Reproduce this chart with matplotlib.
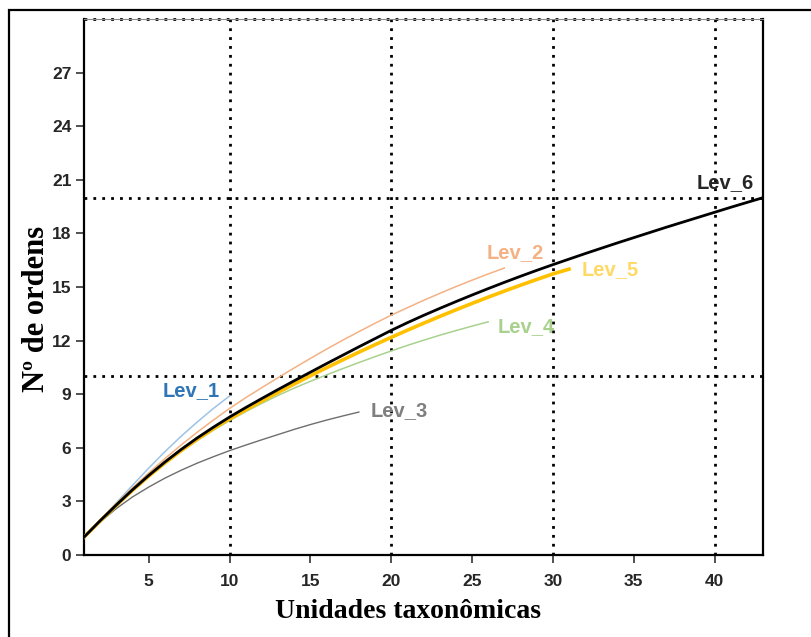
import matplotlib
matplotlib.use("Agg")
import matplotlib.pyplot as plt
from matplotlib.patches import Rectangle

# Rarefaction curves: number of orders vs. taxonomic units, per level
lev1_x = list(range(1, 11))
lev1_y = [1.0, 1.96, 2.92, 3.9, 4.86, 5.78, 6.64, 7.44, 8.2, 8.9]

lev2_x = list(range(1, 28))
lev2_y = [1.0, 1.95, 2.87, 3.75, 4.59, 5.39, 6.15, 6.87, 7.55, 8.2,
          8.8, 9.37, 9.92, 10.47, 11.0, 11.52, 12.02, 12.5, 12.97, 13.42,
          13.84, 14.25, 14.64, 15.02, 15.38, 15.73, 16.06]

lev3_x = list(range(1, 19))
lev3_y = [1.0, 1.85, 2.6, 3.25, 3.8, 4.3, 4.74, 5.14, 5.5, 5.84,
          6.15, 6.45, 6.74, 7.03, 7.3, 7.55, 7.78, 8.0]

lev4_x = list(range(1, 27))
lev4_y = [1.0, 1.9, 2.77, 3.6, 4.38, 5.1, 5.77, 6.4, 6.98, 7.52,
          8.02, 8.49, 8.93, 9.34, 9.72, 10.08, 10.43, 10.77, 11.1, 11.42,
          11.73, 12.02, 12.3, 12.56, 12.81, 13.05]

lev5_x = list(range(1, 32))
lev5_y = [1.0, 1.9, 2.78, 3.62, 4.41, 5.15, 5.84, 6.48, 7.07, 7.62,
          8.13, 8.62, 9.1, 9.57, 10.03, 10.48, 10.92, 11.35, 11.77, 12.18,
          12.58, 12.97, 13.35, 13.72, 14.08, 14.43, 14.77, 15.1, 15.42, 15.73,
          16.0]

lev6_x = list(range(1, 44))
lev6_y = [1.0, 1.92, 2.8, 3.65, 4.45, 5.2, 5.9, 6.55, 7.15, 7.72,
          8.25, 8.76, 9.26, 9.75, 10.23, 10.71, 11.18, 11.65, 12.11, 12.57,
          13.0, 13.41, 13.8, 14.18, 14.55, 14.91, 15.26, 15.6, 15.93, 16.25,
          16.56, 16.87, 17.17, 17.47, 17.76, 18.05, 18.34, 18.62, 18.9, 19.18,
          19.46, 19.73, 20.0]

x_ticks = [5, 10, 15, 20, 25, 30, 35, 40]
y_ticks = [0, 3, 6, 9, 12, 15, 18, 21, 24, 27]
x_guides = [10, 20, 30, 40]
y_guides = [10, 20, 30]

plt.rcParams['font.family'] = ['Liberation Sans', 'DejaVu Sans']

fig = plt.figure(figsize=(8.11, 6.37), dpi=100)
ax = fig.add_axes([84 / 811, 1 - 555 / 637, (763 - 84) / 811, (555 - 19) / 637])

# outer frame around the figure
fig.patches.append(Rectangle((9 / 811, -0.05), 1.1, 1 - 10 / 637 + 0.05,
                             transform=fig.transFigure, fill=False,
                             edgecolor='black', linewidth=1.6, zorder=0))

ax.set_xlim(1, 43)
ax.set_ylim(0, 30)

for gx in x_guides:
    ax.axvline(gx, color='black', linestyle=(0, (1, 2.2)), linewidth=2.0, zorder=1)
for gy in y_guides:
    ax.axhline(gy, color='black', linestyle=(0, (1, 2.2)), linewidth=2.0, zorder=1,
               clip_on=False)

ax.plot(lev1_x, lev1_y, color='#9DC3E6', linewidth=1.1, zorder=3)
ax.plot(lev2_x, lev2_y, color='#F4B183', linewidth=1.1, zorder=3)
ax.plot(lev3_x, lev3_y, color='#6E6E6E', linewidth=1.0, zorder=3)
ax.plot(lev4_x, lev4_y, color='#A9D18E', linewidth=1.1, zorder=3)
ax.plot(lev5_x, lev5_y, color='#FFC000', linewidth=2.6, zorder=4)
ax.plot(lev6_x, lev6_y, color='black', linewidth=2.0, zorder=5)

label_kw = dict(fontsize=14.5, fontweight='bold', va='center', zorder=6)
ax.text(lev1_x[-1] - 0.6, lev1_y[-1] + 0.3, 'Lev_1', color='#2E75B6', ha='right', **label_kw)
ax.text(lev2_x[-1] - 1.1, lev2_y[-1] + 0.85, 'Lev_2', color='#F4B183', ha='left', **label_kw)
ax.text(lev3_x[-1] + 0.75, lev3_y[-1] + 0.1, 'Lev_3', color='#7F7F7F', ha='left', **label_kw)
ax.text(lev4_x[-1] + 0.6, lev4_y[-1] - 0.25, 'Lev_4', color='#A9D18E', ha='left', **label_kw)
ax.text(lev5_x[-1] + 0.75, lev5_y[-1] - 0.05, 'Lev_5', color='#FFD966', ha='left', **label_kw)
ax.text(lev6_x[-1] - 4.1, lev6_y[-1] + 0.82, 'Lev_6', color='#262626', ha='left', **label_kw)

ax.set_xticks(x_ticks)
ax.set_yticks(y_ticks)
ax.tick_params(axis='both', direction='out', length=6, width=1.2, color='#333333',
               labelsize=12.5, pad=3)
for lab in ax.get_xticklabels() + ax.get_yticklabels():
    lab.set_fontweight('bold')
    lab.set_color('#262626')
ax.tick_params(axis='x', pad=8)

for side in ['left', 'bottom', 'right']:
    ax.spines[side].set_color('black')
    ax.spines[side].set_linewidth(1.6)
ax.spines['top'].set_color('#888888')
ax.spines['top'].set_linewidth(0.8)

ax.set_xlabel('Unidades taxonômicas', family=['Liberation Serif', 'DejaVu Serif'],
              fontsize=20, fontweight='bold')
ax.set_ylabel('Nº de ordens', family=['Liberation Serif', 'DejaVu Serif'],
              fontsize=22, fontweight='bold')
ax.xaxis.set_label_coords((408 - 84) / (763 - 84), -(599 - 555) / (555 - 19))
ax.yaxis.set_label_coords(-(84 - 51) / (763 - 84), (555 - 309) / (555 - 19))

fig.savefig('out.png', dpi=100)
